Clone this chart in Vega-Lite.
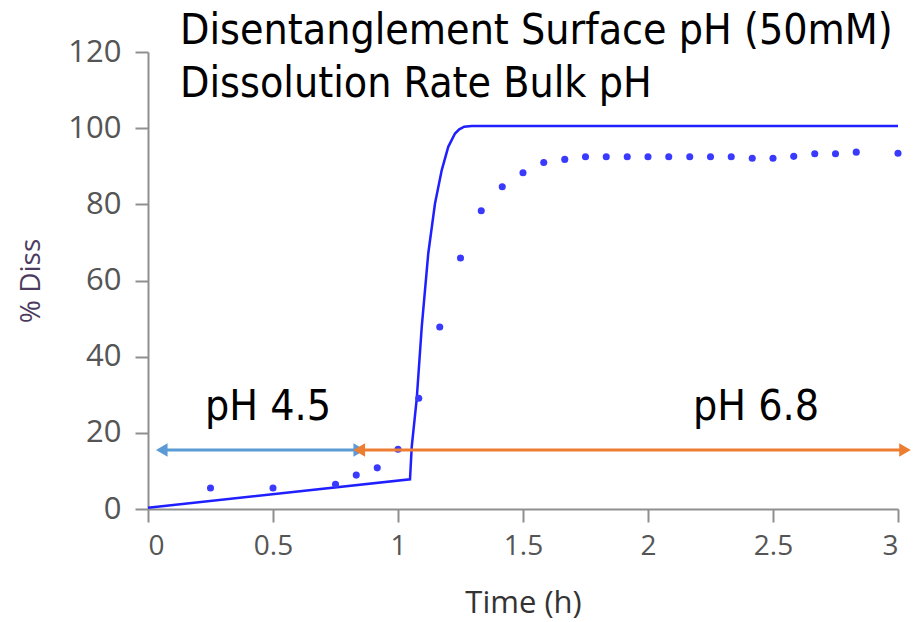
{
  "$schema": "https://vega.github.io/schema/vega-lite/v6.json",
  "autosize": {"type": "none"},
  "width": 750,
  "height": 457,
  "padding": {"left": 148, "top": 52, "right": 25, "bottom": 113},
  "background": "white",
  "view": {"stroke": null},
  "config": {
    "font": "Open Sans",
    "axis": {"grid": false, "domainColor": "#8f8f8f", "tickColor": "#8f8f8f", "domainWidth": 2, "tickWidth": 2, "tickSize": 13, "labelColor": "#555555", "labelFont": "Open Sans", "labelFontSize": 28, "titleFont": "Open Sans", "titleFontWeight": "normal"}
  },
  "datasets": {
    "sim": [
      {"t": 0, "v": 0.3},
      {"t": 1.048, "v": 7.8},
      {"t": 1.055, "v": 16.4},
      {"t": 1.075, "v": 29},
      {"t": 1.095, "v": 47.8},
      {"t": 1.121, "v": 67.1},
      {"t": 1.148, "v": 80.2},
      {"t": 1.175, "v": 89},
      {"t": 1.201, "v": 95.1},
      {"t": 1.228, "v": 98.6},
      {"t": 1.245, "v": 99.7},
      {"t": 1.265, "v": 100.4},
      {"t": 1.295, "v": 100.6},
      {"t": 3.0, "v": 100.6}
    ],
    "obs": [
      {"t": 0.25, "v": 5.5},
      {"t": 0.5, "v": 5.5},
      {"t": 0.75, "v": 6.5},
      {"t": 0.833, "v": 8.9},
      {"t": 0.917, "v": 10.8},
      {"t": 1.0, "v": 15.7},
      {"t": 1.083, "v": 29.1},
      {"t": 1.167, "v": 47.8},
      {"t": 1.25, "v": 65.9},
      {"t": 1.333, "v": 78.3},
      {"t": 1.417, "v": 84.6},
      {"t": 1.5, "v": 88.3},
      {"t": 1.583, "v": 91},
      {"t": 1.667, "v": 91.8},
      {"t": 1.75, "v": 92.5},
      {"t": 1.833, "v": 92.5},
      {"t": 1.917, "v": 92.5},
      {"t": 2.0, "v": 92.5},
      {"t": 2.083, "v": 92.5},
      {"t": 2.167, "v": 92.5},
      {"t": 2.25, "v": 92.5},
      {"t": 2.333, "v": 92.5},
      {"t": 2.417, "v": 92.1},
      {"t": 2.5, "v": 92.1},
      {"t": 2.583, "v": 92.6},
      {"t": 2.667, "v": 93.3},
      {"t": 2.75, "v": 93.3},
      {"t": 2.833, "v": 93.7},
      {"t": 3.0, "v": 93.4}
    ]
  },
  "encoding": {
    "x": {"field": "t", "type": "quantitative", "scale": {"domain": [0, 3], "nice": false, "zero": false},
      "axis": {"values": [0, 0.5, 1, 1.5, 2, 2.5, 3], "labelExpr": "'' + datum.value", "title": "Time (h)", "titleFontSize": 31, "titleColor": "#333333", "titlePadding": 28, "labelPadding": 10}},
    "y": {"field": "v", "type": "quantitative", "scale": {"domain": [0, 120], "nice": false},
      "axis": {"values": [0, 20, 40, 60, 80, 100, 120], "title": "% Diss", "titleFontSize": 28, "titleColor": "#4b3b5e", "titlePadding": 22, "labelPadding": 14, "labelFontSize": 31}}
  },
  "layer": [
    {"data": {"name": "sim"}, "mark": {"type": "line", "color": "#1f1fff", "strokeWidth": 2.5}},
    {"data": {"name": "obs"}, "mark": {"type": "point", "filled": true, "color": "#3a3aff", "opacity": 1, "size": 50}},
    {"data": {"values": [{"a": 0.06, "b": 0.85, "y": 15.5}]}, "mark": {"type": "rule", "color": "#5b9bd5", "strokeWidth": 3},
      "encoding": {"x": {"field": "a", "type": "quantitative"}, "x2": {"field": "b"}, "y": {"field": "y", "type": "quantitative"}}},
    {"data": {"values": [{"t": 0.055, "v": 15.5, "s": "left"}, {"t": 0.845, "v": 15.5, "s": "right"}]}, "mark": {"type": "point", "filled": true, "color": "#5b9bd5", "opacity": 1, "size": 180},
      "encoding": {"shape": {"field": "s", "type": "nominal", "scale": {"domain": ["left", "right"], "range": ["triangle-left", "triangle-right"]}, "legend": null}}},
    {"data": {"values": [{"a": 0.85, "b": 3.03, "y": 15.5}]}, "mark": {"type": "rule", "color": "#ed7d31", "strokeWidth": 3},
      "encoding": {"x": {"field": "a", "type": "quantitative"}, "x2": {"field": "b"}, "y": {"field": "y", "type": "quantitative"}}},
    {"data": {"values": [{"t": 0.845, "v": 15.5, "s": "left"}, {"t": 3.028, "v": 15.5, "s": "right"}]}, "mark": {"type": "point", "filled": true, "color": "#ed7d31", "opacity": 1, "size": 180, "clip": false},
      "encoding": {"shape": {"field": "s", "type": "nominal", "scale": {"domain": ["left", "right"], "range": ["triangle-left", "triangle-right"]}, "legend": null}}},
    {"data": {"values": [{"t": 0.228, "v": 23.5, "label": "pH 4.5"}, {"t": 2.18, "v": 23.5, "label": "pH 6.8"}, {"t": 0.128, "v": 122, "label": "Disentanglement Surface pH (50mM)"}, {"t": 0.128, "v": 108.2, "label": "Dissolution Rate Bulk pH"}]},
      "mark": {"type": "text", "align": "left", "baseline": "alphabetic", "font": "Liberation Sans Narrow, DejaVu Sans Condensed, Open Sans", "fontSize": 42.5, "color": "#000000"},
      "encoding": {"text": {"field": "label", "type": "nominal"}}}
  ]
}
